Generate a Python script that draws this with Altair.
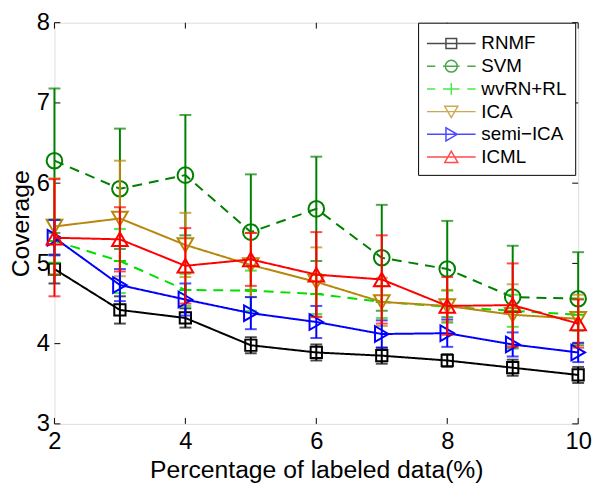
import altair as alt
import pandas as pd

# ---------------- data ----------------
x_vals = [2, 3, 4, 5, 6, 7, 8, 9, 10]

series_names = ["RNMF", "SVM", "wvRN+RL", "ICA", "semi\u2212ICA", "ICML"]

rnmf = [4.93, 4.42, 4.32, 3.98, 3.89, 3.85, 3.79, 3.70, 3.61]
rnmf_err = [0.18, 0.17, 0.12, 0.10, 0.10, 0.10, 0.08, 0.10, 0.10]
svm = [6.28, 5.93, 6.10, 5.39, 5.68, 5.07, 4.93, 4.58, 4.56]
svm_err = [0.90, 0.75, 0.75, 0.72, 0.65, 0.66, 0.60, 0.64, 0.58]
wvrn = [5.28, 5.03, 4.67, 4.66, 4.62, 4.52, 4.46, 4.41, 4.36]
wvrn_err = [0.27, 0.40, 0.20, 0.25, 0.25, 0.20, 0.20, 0.20, 0.20]
ica = [5.46, 5.56, 5.23, 4.98, 4.77, 4.52, 4.47, 4.36, 4.31]
ica_err = [0.60, 0.72, 0.40, 0.40, 0.43, 0.30, 0.20, 0.38, 0.30]
semi = [5.32, 4.73, 4.55, 4.38, 4.27, 4.12, 4.13, 3.99, 3.89]
semi_err = [0.22, 0.20, 0.20, 0.20, 0.20, 0.17, 0.17, 0.15, 0.12]
icml = [5.32, 5.30, 4.97, 5.05, 4.86, 4.80, 4.47, 4.48, 4.25]
icml_err = [0.73, 0.40, 0.47, 0.33, 0.53, 0.55, 0.36, 0.52, 0.30]

x_ticks = [2, 4, 6, 8, 10]
y_ticks = [3, 4, 5, 6, 7, 8]

# ---------------- styles ----------------
colors = ["#000000", "#008000", "#00e000", "#b8860b", "#0000ff", "#ff0000"]
dashes = [[1, 0], [10, 7], [10, 7], [1, 0], [1, 0], [1, 0]]
plus_path = "M-1,0L1,0M0,-1L0,1"
shapes = ["square", "circle", plus_path, "triangle-down", "triangle-right", "triangle-up"]
sizes = [130, 250, 150, 250, 250, 250]

solid = "M-1,0L3.1,0"
dashed = "M-1,0L-0.3,0M0.35,0L1.75,0M2.4,0L3.1,0"
legend_paths = [
    solid + "M0.6,-0.42L1.5,-0.42L1.5,0.42L0.6,0.42Z",
    dashed + "M1.55,0A0.5,0.5,0,1,1,0.55,0A0.5,0.5,0,1,1,1.55,0",
    dashed + "M1.05,-0.5L1.05,0.5",
    solid + "M0.5,-0.45L1.6,-0.45L1.05,0.5Z",
    solid + "M0.6,-0.55L0.6,0.55L1.55,0Z",
    solid + "M1.05,-0.5L0.5,0.45L1.6,0.45Z",
]

means = [rnmf, svm, wvrn, ica, semi, icml]
errs = [rnmf_err, svm_err, wvrn_err, ica_err, semi_err, icml_err]

rows = []
for name, m, e in zip(series_names, means, errs):
    for xv, mv, ev in zip(x_vals, m, e):
        rows.append({"series": name, "x": xv, "y": mv, "lo": mv - ev, "hi": mv + ev})
df = pd.DataFrame(rows)

W, H = 530, 406
xs = alt.Scale(domain=[2, 10], nice=False, zero=False)
ys = alt.Scale(domain=[3, 8], nice=False, zero=False)

FONT = "Liberation Sans"

x_axis = alt.Axis(values=x_ticks, title="Percentage of labeled data(%)", grid=False,
                  domain=False, ticks=False, labelFontSize=24, titleFontSize=25,
                  labelPadding=6, titlePadding=4, labelColor="black", titleColor="black",
                  titleFontWeight="normal", labelFont=FONT, titleFont=FONT,
                  labelFlush=False)
y_axis = alt.Axis(values=y_ticks, title="Coverage", grid=False, domain=False,
                  ticks=False, labelFontSize=24, titleFontSize=25, labelPadding=5,
                  titlePadding=3, labelColor="black", titleColor="black",
                  titleFontWeight="normal", labelFont=FONT, titleFont=FONT,
                  labelFlush=False)

layers = []

# axis frame ticks (inward)
xt = pd.DataFrame({"t": x_ticks})
yt = pd.DataFrame({"t": y_ticks})
base_x = alt.Chart(xt).encode(x=alt.X("t:Q", scale=xs, axis=x_axis))
layers.append(base_x.mark_rule(color="black", strokeWidth=1).encode(
    y=alt.value(H), y2=alt.value(H - 6)))
layers.append(base_x.mark_rule(color="black", strokeWidth=1).encode(
    y=alt.value(0), y2=alt.value(6)))
base_y = alt.Chart(yt).encode(y=alt.Y("t:Q", scale=ys, axis=y_axis))
layers.append(base_y.mark_rule(color="black", strokeWidth=1).encode(
    x=alt.value(0), x2=alt.value(6)))
layers.append(base_y.mark_rule(color="black", strokeWidth=1).encode(
    x=alt.value(W - 6), x2=alt.value(W)))

for i, name in enumerate(series_names):
    c = colors[i]
    base = alt.Chart(df).transform_filter(alt.datum.series == name)
    X = alt.X("x:Q", scale=xs, axis=x_axis)
    layers.append(base.mark_rule(color=c, strokeWidth=2).encode(
        x=X, y=alt.Y("lo:Q", scale=ys, axis=y_axis), y2="hi:Q"))
    layers.append(base.mark_tick(color=c, orient="horizontal", size=12, thickness=2).encode(
        x=X, y=alt.Y("lo:Q", scale=ys, axis=y_axis)))
    layers.append(base.mark_tick(color=c, orient="horizontal", size=12, thickness=2).encode(
        x=X, y=alt.Y("hi:Q", scale=ys, axis=y_axis)))
    layers.append(base.mark_line(color=c, strokeWidth=2, strokeDash=dashes[i]).encode(
        x=X, y=alt.Y("y:Q", scale=ys, axis=y_axis)))
    layers.append(base.mark_point(color=c, filled=False, strokeWidth=2, shape=shapes[i],
                                  size=sizes[i], opacity=1).encode(
        x=X, y=alt.Y("y:Q", scale=ys, axis=y_axis)))

# legend layer (no data rows; explicit domains)
leg_df = pd.DataFrame({"series": pd.Series([], dtype=str)})
leg = alt.Legend(title=None, orient="none", legendX=368, legendY=0,
                 strokeColor="black", fillColor="white", padding=8,
                 labelFontSize=19, labelFont=FONT, labelColor="black",
                 symbolSize=576, symbolStrokeWidth=1.5, labelOffset=30,
                 rowPadding=0, symbolFillColor="transparent", labelLimit=300)
layers.append(alt.Chart(leg_df).mark_point(filled=False, strokeWidth=1.5).encode(
    color=alt.Color("series:N", scale=alt.Scale(domain=series_names, range=colors), legend=leg,
                    sort=series_names),
    shape=alt.Shape("series:N", scale=alt.Scale(domain=series_names, range=legend_paths),
                    legend=leg, sort=series_names),
))

chart = alt.layer(*layers).properties(
    width=W, height=H,
    padding={"left": 47, "top": 12, "right": 14, "bottom": 61},
    autosize=alt.AutoSizeParams(type="none"),
).configure_view(stroke="black", strokeWidth=1).configure(background="white")

chart.save("out.html", embed_options={"renderer": "svg", "actions": False})
